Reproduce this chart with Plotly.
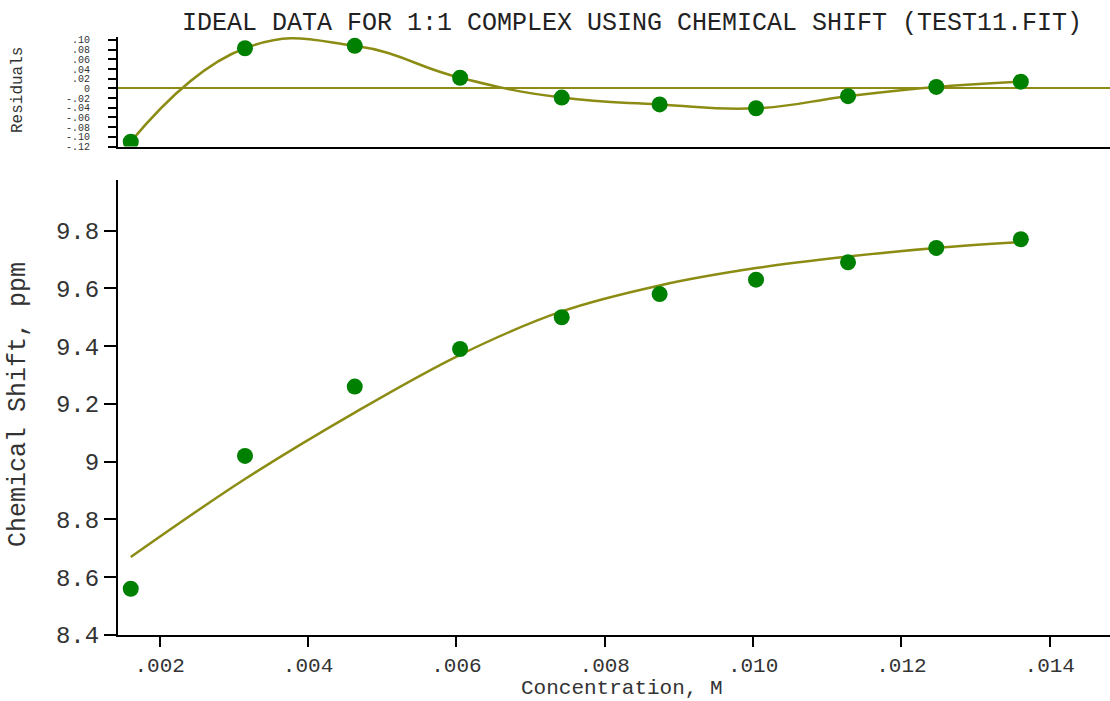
import plotly.graph_objects as go

# Titration data: host concentration (M), observed chemical shift (ppm)
conc = [0.00161, 0.00315, 0.00463, 0.00605, 0.00742, 0.00874, 0.01004, 0.01128, 0.01247, 0.01361]
shift_obs = [8.56, 9.02, 9.26, 9.39, 9.50, 9.58, 9.63, 9.69, 9.74, 9.77]
# Shifts calculated from the 1:1 binding fit
shift_fit = [8.67, 8.94, 9.17, 9.37, 9.52, 9.61, 9.67, 9.71, 9.74, 9.76]
# Residuals (observed - calculated)
residuals = [-0.110, 0.083, 0.088, 0.022, -0.019, -0.033, -0.041, -0.016, 0.003, 0.014]

x_tickvals = [0.002, 0.004, 0.006, 0.008, 0.010, 0.012, 0.014]
x_ticktext = [".002", ".004", ".006", ".008", ".010", ".012", ".014"]
y_tickvals = [8.4, 8.6, 8.8, 9.0, 9.2, 9.4, 9.6, 9.8]
y_ticktext = ["8.4", "8.6", "8.8", "9", "9.2", "9.4", "9.6", "9.8"]
r_tickvals = [0.10, 0.08, 0.06, 0.04, 0.02, 0.0, -0.02, -0.04, -0.06, -0.08, -0.10, -0.12]
r_ticktext = [".10", ".08", ".06", ".04", ".02", "0", "-.02", "-.04", "-.06", "-.08", "-.10", "-.12"]

FONT = "Liberation Mono, Courier New, monospace"
TEXT = "#333333"
FIT_COLOR = "#8c8c14"
PT_COLOR = "#008000"

W, H = 1110, 701
ML, MR, MT, MB = 118, 0, 0, 66
plot_h = H - MT - MB


def py(pixel_y):
    """Convert a pixel row to paper y coordinate."""
    return (plot_h - (pixel_y - MT)) / plot_h


def px(pixel_x):
    return (pixel_x - ML) / (W - ML - MR)


fig = go.Figure()

# Main panel: fitted curve and observed points
fig.add_trace(go.Scatter(x=conc, y=shift_fit, mode="lines",
                         line=dict(color=FIT_COLOR, width=2.5, shape="spline", smoothing=1.0),
                         xaxis="x", yaxis="y", hoverinfo="skip"))
fig.add_trace(go.Scatter(x=conc, y=shift_obs, mode="markers",
                         marker=dict(color=PT_COLOR, size=16),
                         xaxis="x", yaxis="y"))

# Residuals panel
fig.add_trace(go.Scatter(x=conc, y=residuals, mode="lines",
                         line=dict(color=FIT_COLOR, width=2.5, shape="spline", smoothing=1.3),
                         xaxis="x2", yaxis="y2", hoverinfo="skip"))
fig.add_trace(go.Scatter(x=conc, y=residuals, mode="markers",
                         marker=dict(color=PT_COLOR, size=16),
                         xaxis="x2", yaxis="y2"))

x_range = [0.001438, 0.014812]

fig.update_layout(
    width=W, height=H,
    margin=dict(l=ML, r=MR, t=MT, b=MB),
    paper_bgcolor="white", plot_bgcolor="white",
    showlegend=False,
    font=dict(family=FONT, color=TEXT, size=24),
    title=dict(text="IDEAL DATA FOR 1:1 COMPLEX USING CHEMICAL SHIFT (TEST11.FIT)",
               x=632 / W, xanchor="center", xref="container",
               y=1 - 21 / H, yanchor="middle", yref="container",
               font=dict(family=FONT, size=25, color="#222222")),
    xaxis=dict(range=x_range, domain=[0, 1], anchor="y",
               tickvals=x_tickvals, ticktext=x_ticktext,
               showline=True, linecolor="black", linewidth=2,
               ticks="outside", ticklen=10, tickwidth=2, tickcolor="black",
               showgrid=False, zeroline=False,
               tickfont=dict(family=FONT, size=21, color=TEXT)),
    yaxis=dict(range=[8.4, 9.975], domain=[0, py(180)], anchor="x",
               tickvals=y_tickvals, ticktext=y_ticktext,
               showline=True, linecolor="black", linewidth=2,
               ticks="outside", ticklen=12, tickwidth=2, tickcolor="black",
               showgrid=False, zeroline=False,
               tickfont=dict(family=FONT, size=24, color=TEXT)),
    xaxis2=dict(range=x_range, domain=[0, 1], anchor="y2", matches="x",
                showticklabels=False, ticks="",
                showline=True, linecolor="black", linewidth=2,
                showgrid=False, zeroline=False),
    yaxis2=dict(range=[-0.12, 0.107], domain=[py(146.5), py(36.6)], anchor="x2",
                tickvals=r_tickvals, ticktext=r_ticktext,
                showline=True, linecolor="black", linewidth=2,
                ticks="outside", ticklen=8, tickwidth=2, tickcolor="black",
                ticklabelstandoff=16,
                showgrid=False,
                zeroline=True, zerolinecolor=FIT_COLOR, zerolinewidth=2,
                tickfont=dict(family=FONT, size=10, color=TEXT)),
    annotations=[
        dict(text="Chemical Shift, ppm", x=px(18), y=py(405), xref="paper", yref="paper",
             xanchor="center", yanchor="middle", textangle=-90, showarrow=False,
             font=dict(family=FONT, size=25, color=TEXT)),
        dict(text="Residuals", x=px(18), y=py(90), xref="paper", yref="paper",
             xanchor="center", yanchor="middle", textangle=-90, showarrow=False,
             font=dict(family=FONT, size=16, color=TEXT)),
        dict(text="Concentration, M", x=px(622), y=py(701), xref="paper", yref="paper",
             xanchor="center", yanchor="bottom", showarrow=False, borderpad=0,
             font=dict(family=FONT, size=21, color=TEXT)),
    ],
)

fig.write_html("out.html")
